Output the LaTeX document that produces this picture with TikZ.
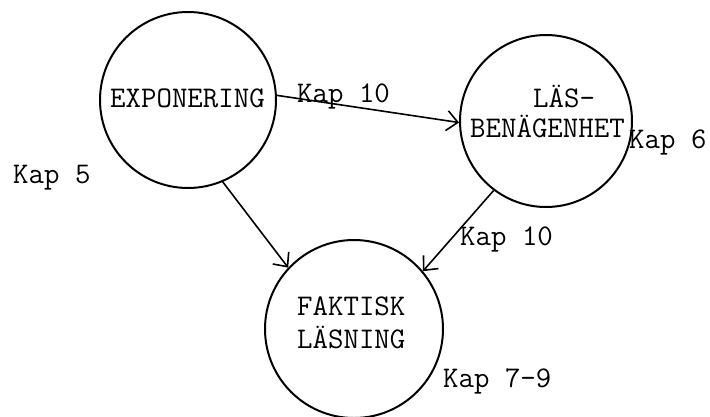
\documentclass[tikz,border=0pt]{standalone}
\usetikzlibrary{arrows.meta}
\begin{document}
\begin{tikzpicture}[x=1pt,y=-1pt,
  bubble/.style={circle,draw,line width=2pt,inner sep=0pt},
  txt/.style={anchor=base west,inner sep=0pt,font=\fontsize{30}{36}\ttfamily},
  conn/.style={line width=1.6pt,-{Straight Barb[length=11pt,width=20pt,line width=1.6pt]}}]
\useasboundingbox (0,0) rectangle (710,416);
\node[bubble,minimum size=176pt] (exp) at (188,100) {};
\node[bubble,minimum size=172pt] (las) at (546,121) {};
\node[bubble,minimum size=178pt] (fak) at (354,329) {};
\node[txt] (t1) at (110,107) {EXPONERING};
\node[txt] (t2) at (533,107) {LÄS-};
\node[txt] (t3) at (470,137) {BENÄGENHET};
\node[txt] (t4) at (297,315) {FAKTISK};
\node[txt] (t5) at (297,348) {LÄSNING};
\node[txt] (k1) at (297,102) {Kap 10};
\node[txt] (k2) at (460,245) {Kap 10};
\node[txt] (k3) at (629,148) {Kap 6};
\node[txt] (k4) at (443,387) {Kap 7-9};
\node[txt] (k5) at (13,183) {Kap 5};
\draw[conn] (exp.3) -- (las.181);
\draw[conn] (exp.-67) -- (fak.137);
\draw[conn] (las.233) -- (fak.40);
\end{tikzpicture}
\end{document}
